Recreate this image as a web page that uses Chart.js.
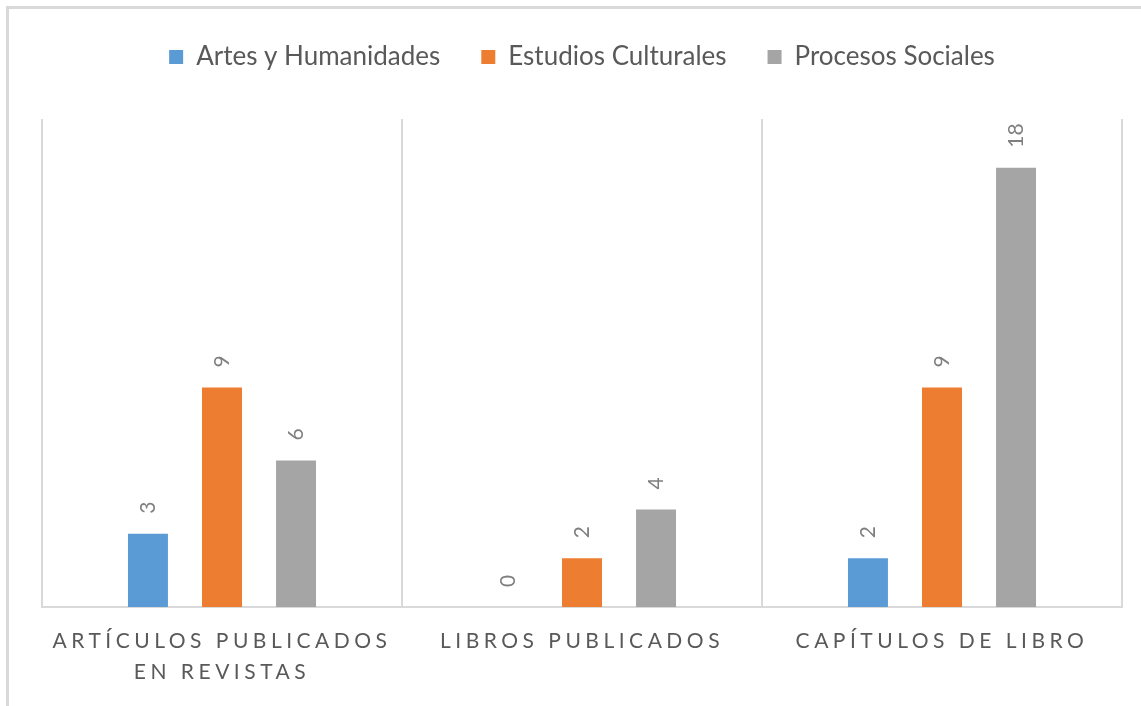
<!DOCTYPE html>
<html>
<head>
<meta charset="utf-8">
<script src="https://cdn.jsdelivr.net/npm/chart.js@4.4.0/dist/chart.umd.min.js"></script>
<style>
  html, body { margin: 0; padding: 0; background: #fff; }
  #wrap { position: relative; width: 1141px; height: 706px; overflow: hidden; }
  #frame {
    position: absolute; left: 6px; top: 6px; width: 1200px; height: 800px;
    border-top: 3px solid #d9d9d9; border-left: 3px solid #d9d9d9;
    pointer-events: none;
  }
</style>
</head>
<body>
<div id="wrap">
  <canvas id="chart" width="1141" height="706"></canvas>
  <div id="frame"></div>
</div>
<script>
const categories = [
  ["ARTÍCULOS PUBLICADOS", "EN REVISTAS"],
  "LIBROS PUBLICADOS",
  "CAPÍTULOS DE LIBRO"
];
const seriesNames = ["Artes y Humanidades", "Estudios Culturales", "Procesos Sociales"];
const artesValues = [3, 0, 2];
const estudiosValues = [9, 2, 9];
const procesosValues = [6, 4, 18];
const seriesColors = ["#5b9bd5", "#ed7d31", "#a5a5a5"];

// category scale that draws its labels letter-spaced like the Office original
class SpacedCategoryScale extends Chart.CategoryScale {
  drawLabels(chartArea) {
    this.ctx.save();
    this.ctx.letterSpacing = "4.5px";
    super.drawLabels(chartArea);
    this.ctx.restore();
  }
}
SpacedCategoryScale.id = "spacedCategory";
SpacedCategoryScale.defaults = Chart.CategoryScale.defaults;
Chart.register(SpacedCategoryScale);

// extra room under the legend
const legendMargin = {
  id: "legendMargin",
  beforeInit(chart) {
    const fit = chart.legend.fit;
    chart.legend.fit = function () {
      fit.bind(chart.legend)();
      this.height += 39;
    };
  }
};

// value labels rotated above each bar
const barValueLabels = {
  id: "barValueLabels",
  afterDatasetsDraw(chart) {
    const ctx = chart.ctx;
    ctx.save();
    ctx.font = "21px Lato";
    ctx.fillStyle = "#7f7f7f";
    ctx.textAlign = "left";
    ctx.textBaseline = "middle";
    chart.data.datasets.forEach((ds, i) => {
      chart.getDatasetMeta(i).data.forEach((bar, j) => {
        ctx.save();
        ctx.translate(bar.x, bar.y - 20);
        ctx.rotate(-Math.PI / 2);
        ctx.fillText(String(ds.data[j]), 0, 0);
        ctx.restore();
      });
    });
    ctx.restore();
  }
};

const valueLists = [artesValues, estudiosValues, procesosValues];
const datasets = seriesNames.map((name, i) => ({
  label: name,
  data: valueLists[i],
  backgroundColor: seriesColors[i],
  borderWidth: 0,
  categoryPercentage: 0.617,
  barPercentage: 0.54
}));

new Chart(document.getElementById("chart").getContext("2d"), {
  type: "bar",
  data: { labels: categories, datasets: datasets },
  plugins: [legendMargin, barValueLabels],
  options: {
    responsive: false,
    animation: false,
    layout: { padding: { top: 3, left: 42, right: 19, bottom: 0 } },
    plugins: {
      legend: {
        position: "top",
        labels: {
          boxWidth: 14,
          boxHeight: 14,
          padding: 41,
          color: "#595959",
          font: { family: "Lato", size: 26 }
        }
      },
      tooltip: { enabled: false }
    },
    scales: {
      x: {
        type: "spacedCategory",
        grid: {
          display: true,
          offset: true,
          color: "#d9d9d9",
          lineWidth: 2,
          drawTicks: false
        },
        border: { display: true, color: "#d9d9d9", width: 2 },
        ticks: {
          color: "#595959",
          font: { family: "Lato", size: 21, lineHeight: 1.5 },
          padding: 18,
          maxRotation: 0,
          autoSkip: false
        }
      },
      y: {
        display: false,
        min: 0,
        max: 20
      }
    }
  }
});
</script>
</body>
</html>
